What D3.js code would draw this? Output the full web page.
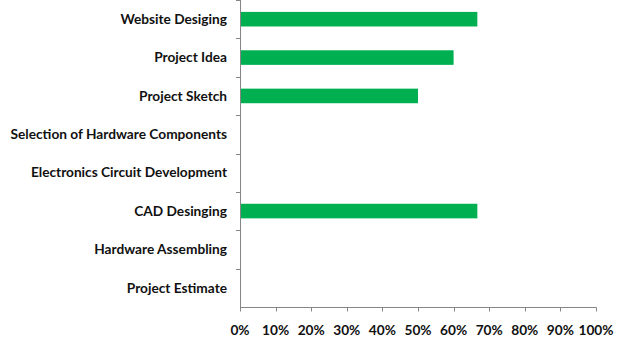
<!DOCTYPE html>
<html><head><meta charset="utf-8">
<script src="https://cdn.jsdelivr.net/npm/d3@7"></script>
<style>body{margin:0;background:#fff}svg{display:block}</style>
</head><body>
<svg id="c" width="622" height="346"></svg>
<script>
const categories = ["Website Desiging","Project Idea","Project Sketch","Selection of Hardware Components","Electronics Circuit Development","CAD Desinging","Hardware Assembling","Project Estimate"];
const values = [66.67, 60, 50, 0, 0, 66.67, 0, 0];
const tickValues = [0,10,20,30,40,50,60,70,80,90,100];

(function(){
const svg = d3.select("#c");
const mLeft = 240, mRight = 596, mTop = 0, mBottom = 307;
const x = d3.scaleLinear().domain([0,100]).range([mLeft,mRight]);
const y = d3.scaleBand().domain(categories).range([mTop,mBottom]).paddingInner(0.62).paddingOuter(0.31);
const font = "Lato, 'Open Sans', sans-serif";

svg.append("g").selectAll("rect").data(categories).join("rect")
  .attr("x", x(0)).attr("y", d => y(d))
  .attr("width", (d,i) => x(values[i]) - x(0))
  .attr("height", y.bandwidth())
  .attr("fill", "#00B050");

const axisColor = "#868686";
const gy = svg.append("g");
gy.append("line").attr("x1", mLeft+0.5).attr("x2", mLeft+0.5).attr("y1", mTop).attr("y2", mBottom+0.5).attr("stroke", axisColor);
const step = (mBottom-mTop)/categories.length;
gy.selectAll("line.t").data(d3.range(categories.length)).join("line").attr("class","t")
  .attr("x1", mLeft-4).attr("x2", mLeft+0.5)
  .attr("y1", i => Math.round(mTop + i*step)+0.5).attr("y2", i => Math.round(mTop + i*step)+0.5)
  .attr("stroke", axisColor);
gy.selectAll("text").data(categories).join("text")
  .attr("x", mLeft-13).attr("y", d => y(d) + y.bandwidth()/2)
  .attr("dy","0.35em").attr("text-anchor","end")
  .attr("font-family", font).attr("font-weight","bold").attr("font-size","13.7px").attr("fill","#111")
  .text(d => d);

const gx = svg.append("g").attr("transform", `translate(0,${mBottom+0.5})`);
gx.append("line").attr("x1", mLeft).attr("x2", mRight+0.5).attr("stroke", axisColor);
gx.selectAll("line.t").data(tickValues).join("line").attr("class","t")
  .attr("x1", d => Math.round(x(d))+0.5).attr("x2", d => Math.round(x(d))+0.5)
  .attr("y1", 0).attr("y2", 4).attr("stroke", axisColor);
gx.selectAll("text").data(tickValues).join("text")
  .attr("x", d => x(d)).attr("y", 23).attr("dy","0.35em").attr("text-anchor","middle")
  .attr("font-family", font).attr("font-weight","bold").attr("font-size","13.7px").attr("fill","#111")
  .text(d => d + "%");
})();
</script>
</body></html>
